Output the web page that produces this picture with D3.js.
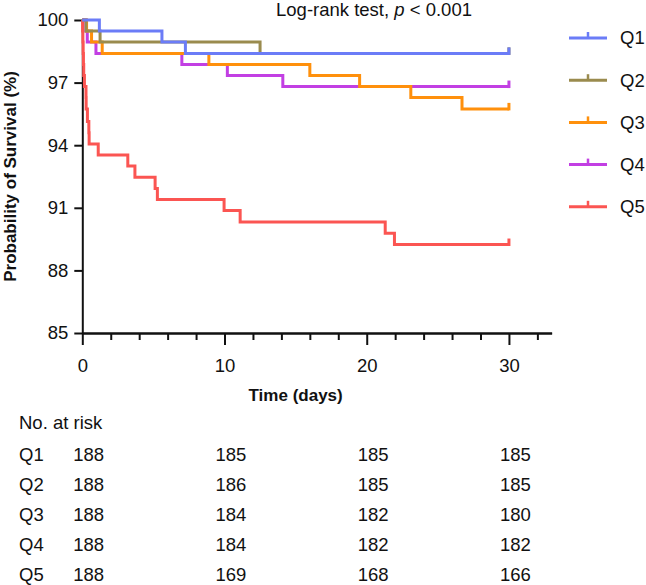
<!DOCTYPE html>
<html>
<head>
<meta charset="utf-8">
<script src="https://cdn.jsdelivr.net/npm/d3@7"></script>
<style>
  body { margin: 0; background: #fff; }
  text { font-family: "Liberation Sans", Arial, Helvetica, sans-serif; fill: #111; }
</style>
</head>
<body>
<div id="chart"></div>
<script>
// step survival curves, [day, survival %]
var q1 = [[0, 100], [1.2, 99.47], [5.6, 98.94], [7.25, 98.40]];
var q2 = [[0, 100], [0.26, 99.47], [1.25, 98.94], [12.5, 98.40]];
var q3 = [[0, 100], [0.3, 99.47], [0.65, 98.94], [1.4, 98.40], [8.9, 97.87], [16.0, 97.34], [19.5, 96.81], [23.1, 96.28], [26.7, 95.74]];
var q4 = [[0, 100], [0.25, 99.47], [0.35, 98.94], [0.96, 98.40], [7.0, 97.87], [10.2, 97.34], [14.1, 96.81]];
var q5 = [[0, 100], [0.02, 99.47], [0.04, 98.94], [0.06, 98.40], [0.08, 97.87], [0.1, 97.34], [0.15, 96.81],
          [0.26, 96.28], [0.27, 95.74], [0.36, 95.13], [0.46, 94.6], [0.48, 94.06], [1.12, 93.53], [3.2, 93.0],
          [3.7, 92.46], [5.12, 91.93], [5.28, 91.4], [9.97, 90.87], [11.1, 90.32], [21.3, 89.78], [21.95, 89.24]];

var groups = ["Q1", "Q2", "Q3", "Q4", "Q5"];
var colors = ["#6b7cf7", "#9a8b4e", "#ff900c", "#c23fe3", "#fb5552"];
var curves = [q1, q2, q3, q4, q5];
var followUp = 30;

var yTicks = [85, 88, 91, 94, 97, 100];
var xTicks = [0, 10, 20, 30];

// number at risk table
var riskTimes = [0, 10, 20, 30];
var riskQ1 = [188, 185, 185, 185];
var riskQ2 = [188, 186, 185, 185];
var riskQ3 = [188, 184, 182, 180];
var riskQ4 = [188, 184, 182, 182];
var riskQ5 = [188, 169, 168, 166];
var riskRows = [riskQ1, riskQ2, riskQ3, riskQ4, riskQ5];

var W = 646, H = 585;

var svg = d3.select("#chart").append("svg")
    .attr("width", W)
    .attr("height", H);

var x = d3.scaleLinear()
    .domain([0, 33])
    .range([82.3, 551.6]);

var y = d3.scaleLinear()
    .domain([85, 100])
    .range([333, 20]);

// y axis
var yAxis = svg.append("g")
    .attr("transform", "translate(" + x(0) + ",0)")
    .call(d3.axisLeft(y).tickValues(yTicks).tickSize(8).tickSizeOuter(0).tickPadding(6));
yAxis.selectAll("text").style("font-size", "18.5px");

// x axis, minor ticks every 2 days
var minor = d3.range(2, 34, 2).filter(function(d) { return d % 10 !== 0; });
svg.append("g")
    .attr("transform", "translate(0," + y(85) + ")")
    .call(d3.axisBottom(x).tickValues(minor).tickSize(7).tickSizeOuter(0).tickFormat(""));

var xAxis = svg.append("g")
    .attr("transform", "translate(0," + y(85) + ")")
    .call(d3.axisBottom(x).tickValues(xTicks).tickSize(12).tickSizeOuter(0).tickPadding(14));
xAxis.selectAll("text").style("font-size", "18.5px");

svg.selectAll(".domain, .tick line")
    .attr("stroke", "#111")
    .attr("stroke-width", 2);

// axis titles
svg.append("text")
    .attr("transform", "translate(16," + ((y(85) + y(100)) / 2) + ") rotate(-90)")
    .attr("text-anchor", "middle")
    .style("font-size", "17px")
    .style("font-weight", "bold")
    .text("Probability of Survival (%)");

svg.append("text")
    .attr("x", x(15))
    .attr("y", 401)
    .attr("text-anchor", "middle")
    .style("font-size", "17px")
    .style("font-weight", "bold")
    .text("Time (days)");

// log-rank note
var note = svg.append("text")
    .attr("x", 374)
    .attr("y", 16)
    .attr("text-anchor", "middle")
    .style("font-size", "18.5px");
note.append("tspan").text("Log-rank test, ");
note.append("tspan").style("font-style", "italic").text("p");
note.append("tspan").text(" < 0.001");

// curves (Q5 drawn first so Q1 ends up on top)
var line = d3.line()
    .x(function(d) { return x(d[0]); })
    .y(function(d) { return y(d[1]); })
    .curve(d3.curveStepAfter);

var order = [4, 3, 2, 1, 0];
order.forEach(function(i) {
  var pts = curves[i].slice();
  var last = pts[pts.length - 1][1];
  pts.push([followUp, last]);

  svg.append("path")
      .datum(pts)
      .attr("fill", "none")
      .attr("stroke", colors[i])
      .attr("stroke-width", 3)
      .attr("stroke-linejoin", "miter")
      .attr("d", line);

  // censor mark at end of follow-up
  svg.append("line")
      .attr("x1", x(followUp)).attr("x2", x(followUp))
      .attr("y1", y(last) + 1.5).attr("y2", y(last) - 6)
      .attr("stroke", colors[i])
      .attr("stroke-width", 3);
});

// legend
var legend = svg.selectAll(".legend")
    .data(groups)
  .enter().append("g")
    .attr("class", "legend")
    .attr("transform", function(d, i) { return "translate(569," + (38 + i * 42.2) + ")"; });

legend.append("line")
    .attr("x1", 0).attr("x2", 38)
    .attr("y1", 0).attr("y2", 0)
    .attr("stroke", function(d, i) { return colors[i]; })
    .attr("stroke-width", 3);

legend.append("line")
    .attr("x1", 19).attr("x2", 19)
    .attr("y1", 0).attr("y2", -6)
    .attr("stroke", function(d, i) { return colors[i]; })
    .attr("stroke-width", 2.5);

legend.append("text")
    .attr("x", 51)
    .attr("dy", "0.35em")
    .style("font-size", "18.5px")
    .text(function(d) { return d; });

// no. at risk table
svg.append("text")
    .attr("x", 19)
    .attr("y", 423)
    .attr("dy", "0.35em")
    .style("font-size", "18.5px")
    .text("No. at risk");

riskRows.forEach(function(row, i) {
  var ry = 455 + i * 30;
  svg.append("text")
      .attr("x", 19)
      .attr("y", ry)
      .attr("dy", "0.35em")
      .style("font-size", "18.5px")
      .text(groups[i]);

  svg.selectAll(".risk" + i)
      .data(row)
    .enter().append("text")
      .attr("x", function(d, j) { return x(riskTimes[j]) - 9; })
      .attr("y", ry)
      .attr("dy", "0.35em")
      .style("font-size", "18.5px")
      .text(function(d) { return d; });
});
</script>
</body>
</html>
